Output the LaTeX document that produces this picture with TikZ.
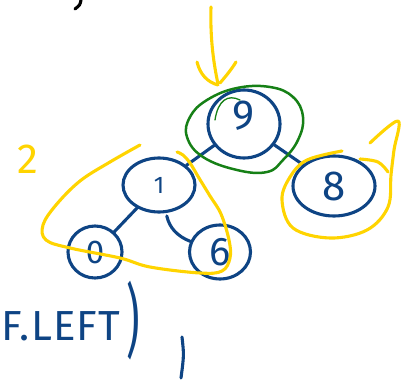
\documentclass[tikz,border=0pt]{standalone}
\usepackage{fontspec}
\setmainfont{Fira Sans}
\usetikzlibrary{shapes.geometric}
\definecolor{inkblue}{RGB}{14,68,132}
\definecolor{inkyellow}{RGB}{255,212,0}
\definecolor{inkgreen}{RGB}{22,128,22}
\newcommand{\penfont}[1]{\fontsize{#1}{#1}\selectfont}
\begin{document}
\begin{tikzpicture}[x=1pt,y=-1pt,
  pen/.style={line width=3.1pt,line cap=round,line join=round},
  keynode/.style={ellipse,draw=inkblue,pen,inner sep=0pt,text=inkblue},
  link/.style={draw=inkblue,pen},
  hilite/.style={draw=inkyellow,pen},
  rootmark/.style={draw=inkgreen,line width=2.5pt,line cap=round,line join=round},
  note/.style={inner sep=0pt,text=inkblue}
]
\useasboundingbox (0,0) rectangle (402,380);
\clip (0,0) rectangle (402,380);

% tree keys
\node[keynode,minimum width=72pt,minimum height=68pt,font=\penfont{42}] (n9) at (244,124) {\raisebox{18pt}{9}};
\node[keynode,minimum width=72pt,minimum height=54pt,font=\penfont{24}] (n1) at (159,185) {1};
\node[keynode,minimum width=82pt,minimum height=60pt,font=\penfont{42}] (n8) at (334,186) {8};
\node[keynode,minimum width=54pt,minimum height=52pt,font=\penfont{33}] (n0) at (95,252) {0};
\node[keynode,minimum width=61pt,minimum height=54pt,font=\penfont{40}] (n6) at (220,252) {6};

% tree links
\draw[link] (n9) -- (n1);
\draw[link] (n9) -- (n8);
\draw[link] (n1) -- (n0);
\draw[link,shorten <=3pt] (n1) to[bend right=28] (n6);

% root highlight
\draw[rootmark] plot[smooth cycle,tension=0.7] coordinates
  {(237,88) (270,87) (293,97) (303,117) (298,140) (283,160) (267,172)
   (237,170) (203,157) (187,137) (190,117) (207,100)};
\draw[rootmark,line width=1.3pt] (215,120) .. controls (218,100) and (228,94) .. (240,100);

% arrow onto the root
\draw[hilite] (211,7) .. controls (210,40) and (214,65) .. (218,84);
\draw[hilite] (197,62) .. controls (200,74) and (207,82) .. (218,85);
\draw[hilite] (236,62) .. controls (231,70) and (226,76) .. (220,83);

% left subtree outline
\draw[hilite] plot[smooth,tension=0.6] coordinates
  {(140,145) (110,162) (80,181) (56,205) (43,225) (46,240) (70,248)
   (120,258) (150,267) (200,273) (222,271) (230,258) (229,240)
   (221,214) (210,196) (199,178) (190,163) (183,155) (177,152)};

% right subtree outline
\draw[hilite] plot[smooth,tension=0.6] coordinates
  {(370,143) (398,121) (394,150) (391,175) (388,207) (367,230)
   (330,238) (293,228) (282,200) (290,177) (307,160) (342,151)};
\draw[hilite] plot[smooth,tension=0.6] coordinates {(360,159) (378,162) (388,172)};

% labels
\node[inner sep=0pt,text=inkyellow,font=\penfont{42}] (two) at (28,159) {2};
\node[note,anchor=base west,font=\penfont{42}\addfontfeature{LetterSpace=3}] (call) at (1,340) {F.LEFT};
\node[note,font=\penfont{38}] (paren) at (133,321) {\scalebox{1.1}[2.1]{)}};
\draw[link] (182,337) .. controls (184,355) .. (181,378);
\draw[pen,black] (81,0) .. controls (80,5) .. (75,9);
\end{tikzpicture}
\end{document}
